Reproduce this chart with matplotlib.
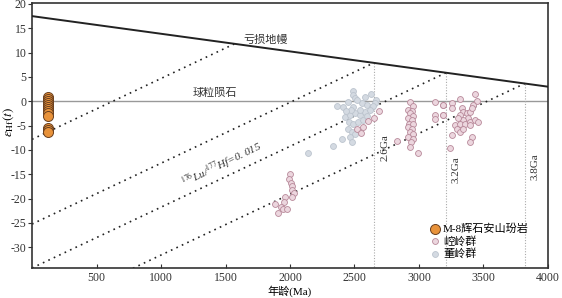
import matplotlib
matplotlib.use("Agg")
import matplotlib.pyplot as plt
import numpy as np

plt.rcParams['font.family'] = ['Liberation Serif', 'Noto Sans CJK SC', 'DejaVu Sans']
plt.rcParams['axes.unicode_minus'] = False
plt.rcParams['mathtext.fontset'] = 'stix'

# --- data ---
m8_age = [120] * 13
m8_eps = [0.8, 0.4, 0.0, -0.4, -0.8, -1.2, -1.6, -2.0, -2.5, -3.0, -5.5, -5.9, -6.3]

kongling_age = [2000, 1992, 2005, 2013, 2016, 2034, 2013, 1961, 1953, 1884, 1928, 1949, 1979, 1910,
                2690, 2651, 2607, 2568, 2522, 2550,
                2930, 2951, 2917, 2943, 2930, 2951, 2917, 2943, 2925, 2956, 2917, 2943, 2930, 2956,
                2917, 2951, 2935, 2930, 2827, 2995,
                3124, 3124, 3124, 3184, 3184, 3189, 3258, 3258, 3318, 3436, 3447, 3421, 3189,
                3331, 3344, 3318, 3370, 3395, 3408, 3382, 3344, 3305, 3279, 3318, 3357, 3395,
                3434, 3460, 3292, 3318, 3344, 3395, 3253, 3408, 3395, 3240]
kongling_eps = [-15.0, -16.0, -16.7, -17.4, -18.3, -18.8, -19.7, -19.7, -20.7, -21.1, -21.8, -22.2, -22.2, -22.9,
                -2.0, -3.4, -4.0, -5.3, -5.6, -6.5,
                -0.2, -0.9, -1.8, -1.9, -2.5, -3.0, -3.5, -3.9, -4.6, -4.6, -5.3, -5.6, -6.3, -6.7,
                -7.4, -7.7, -8.4, -9.4, -8.1, -10.7,
                -0.2, -2.8, -3.6, -0.7, -2.8, -0.7, -0.4, -1.4, 0.4, 1.4, 0.0, -0.7, -2.8,
                -1.4, -2.1, -2.8, -2.5, -2.1, -1.4, -3.5, -3.9, -3.5, -4.9, -4.6, -4.6, -4.2,
                -3.9, -4.2, -5.6, -6.3, -5.6, -4.9, -7.0, -7.4, -8.4, -9.5]

dongling_age = [2486, 2491, 2504, 2625, 2670, 2362, 2413, 2491, 2556, 2594, 2633, 2659, 2640,
                2426, 2465, 2504, 2543, 2581, 2620, 2460, 2491, 2530, 2568, 2452, 2478, 2504,
                2465, 2478, 2401, 2336, 2142, 2520, 2450, 2580, 2475, 2540, 2600, 2435]
dongling_eps = [2.1, 1.3, 0.7, 1.4, 0.2, -0.9, -1.1, -1.1, -0.4, -0.8, -1.1, -0.4, -1.0,
                -3.2, -2.8, -2.5, -2.8, -2.1, -1.8, -4.2, -4.6, -4.2, -3.9, -5.6, -6.3, -6.7,
                -7.4, -8.4, -7.7, -9.1, -10.7, 0.3, -0.2, 0.8, -1.8, -1.7, -3.0, -2.0]

dm_age = [0, 4000]
dm_eps = [17.5, 3.0]
model_ages = [1570, 2650, 3210, 3820]
model_labels = [None, '2.6Ga', '3.2Ga', '3.8Ga']
crust_slope = 0.0125  # epsilon units per Ma for 176Lu/177Hf = 0.015

xticks = [500, 1000, 1500, 2000, 2500, 3000, 3500, 4000]
yticks = [20, 15, 10, 5, 0, -5, -10, -15, -20, -25, -30]

# --- figure ---
fig = plt.figure(figsize=(5.62, 2.98), dpi=100)
ax = fig.add_axes([0.057, 0.10, 0.918, 0.89])
ax.set_xlim(0, 4000)
ax.set_ylim(-34.3, 20.2)

def dm(t):
    return np.interp(t, dm_age, dm_eps)

# depleted mantle
ax.plot(dm_age, dm_eps, color='#222222', lw=1.4, zorder=3)
# chondrite
ax.axhline(0, color='#999999', lw=1.0, zorder=1)

# crustal evolution lines
for T, lab in zip(model_ages, model_labels):
    t = np.array([0, T])
    e = dm(T) - crust_slope * (T - t)
    ax.plot(t, e, color='#222222', lw=1.2, ls=(0, (1, 2.6)), zorder=2)
    if lab is not None:
        ax.plot([T, T], [dm(T), -34.3], color='#aaaaaa', lw=0.8, ls=(0, (1, 1.5)), zorder=1)

ax.text(2654 + 45, -9.5, '2.6Ga', rotation=90, ha='left', va='center', fontsize=8, color='#333333')
ax.text(3210 + 45, -14.0, '3.2Ga', rotation=90, ha='left', va='center', fontsize=8, color='#333333')
ax.text(3820 + 45, -13.5, '3.8Ga', rotation=90, ha='left', va='center', fontsize=8, color='#333333')

ax.text(1814, 12.7, '亏损地幔', ha='center', va='center', fontsize=8, color='#333333',
        family=['Noto Sans CJK SC'])
ax.text(1419, 1.7, '球粒陨石', ha='center', va='center', fontsize=8, color='#333333',
        family=['Noto Sans CJK SC'])
ax.text(1470, -12.9, r'$^{176}$Lu/$^{177}$Hf=0. 015', rotation=26, ha='center', va='center',
        fontsize=8, color='#333333', style='italic', rotation_mode='anchor')

# data
ax.scatter(dongling_age, dongling_eps, s=18, facecolor='#d4dae2', edgecolor='#bcc4ce',
           linewidth=0.6, zorder=4, label='董岭群')
ax.scatter(kongling_age, kongling_eps, s=18, facecolor='#ecd6de', edgecolor='#b8899a',
           linewidth=0.6, zorder=4, label='崆岭群')
ax.scatter(m8_age, m8_eps, s=52, facecolor='#e8923a', edgecolor='#6a4020',
           linewidth=0.7, zorder=5, label='M-8辉石安山玢岩')

h, l = ax.get_legend_handles_labels()
order = [2, 1, 0]
leg = ax.legend([h[i] for i in order], [l[i] for i in order], loc='upper left',
                bbox_to_anchor=(0.758, 0.19), frameon=False,
                handletextpad=0.1, labelspacing=0.15, borderpad=0, handlelength=1.2,
                prop={'family': ['Liberation Serif', 'Noto Sans CJK SC'], 'size': 8})

ax.set_xticks(xticks)
ax.set_yticks(yticks)
ax.tick_params(axis='x', direction='in', length=3, labelsize=8.5, pad=2.5, colors='#333333')
ax.tick_params(axis='y', direction='out', length=3, labelsize=8.5, pad=1, colors='#333333')
for s in ax.spines.values():
    s.set_linewidth(1.2)
    s.set_color('#333333')

ax.set_xlabel('年龄(Ma)', fontsize=8, family=['Liberation Serif', 'Noto Sans CJK SC'])
ax.xaxis.set_label_coords(0.5, -0.064)
ax.set_ylabel(r'$\varepsilon_{\rm Hf}(t)$', fontsize=9.5)
ax.yaxis.set_label_coords(-0.031, 0.55)

fig.savefig('out.png', dpi=100)
